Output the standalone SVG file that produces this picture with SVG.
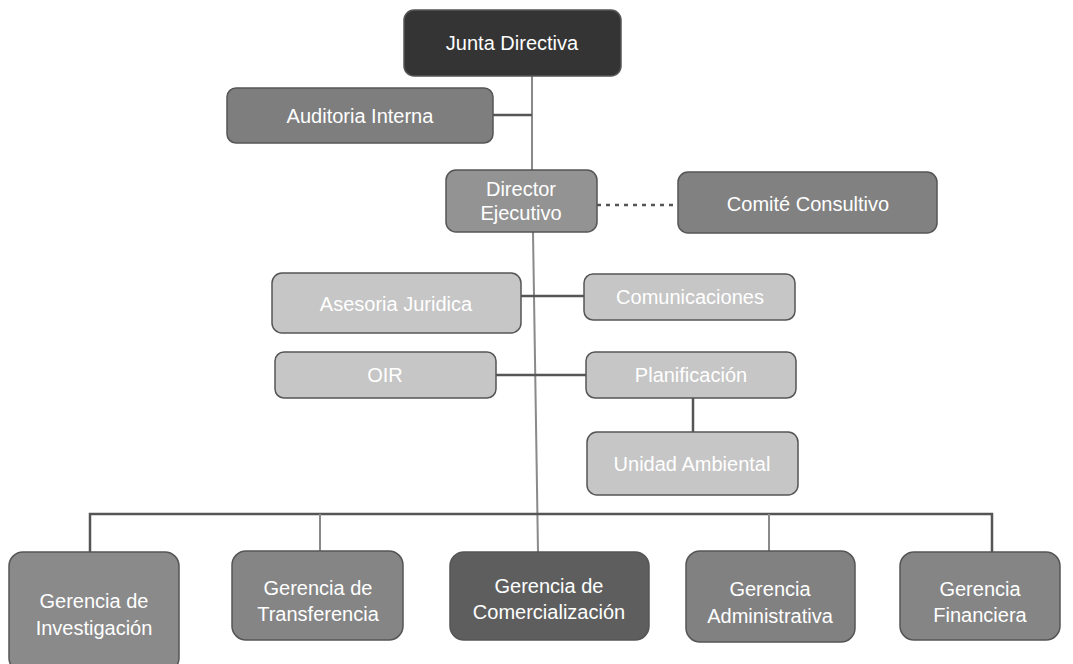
<svg xmlns="http://www.w3.org/2000/svg" width="1073" height="664" viewBox="0 0 1073 664">
<style>
.n{stroke:#555;stroke-width:1.5}
.t{font-family:"Liberation Sans",Arial,sans-serif;font-size:20px;fill:#fff;text-anchor:middle;dominant-baseline:central}
.c{stroke:#555;stroke-width:2.5;fill:none}
.v{stroke:#8a8a8a;stroke-width:2;fill:none}
</style>
<rect width="1073" height="664" fill="#fff"/>
<g id="connectors">
<polyline class="v" points="532,76 532,170"/>
<polyline class="v" points="533,232 538,552"/>
<line class="c" x1="493" y1="115" x2="532" y2="115"/>
<line class="c" x1="597" y1="205" x2="678" y2="205" stroke-dasharray="4,5" stroke-width="3"/>
<line class="c" x1="521" y1="296" x2="585" y2="296"/>
<line class="c" x1="496" y1="375" x2="586" y2="375"/>
<line class="c" x1="693" y1="398" x2="693" y2="432"/>
<polyline class="c" points="90,552 90,514 992,514 992,552"/>
<line class="v" x1="320" y1="514" x2="320" y2="552"/>
<line class="v" x1="769" y1="514" x2="769" y2="552"/>
</g>
<g id="junta"><rect class="n" x="404" y="10" width="217" height="66" rx="10" fill="#343434"/><text class="t" x="512" y="43">Junta Directiva</text></g>
<g id="auditoria"><rect class="n" x="227" y="88" width="266" height="55" rx="9" fill="#7e7e7e"/><text class="t" x="360" y="116">Auditoria Interna</text></g>
<g id="director"><rect class="n" x="446" y="170" width="151" height="62" rx="10" fill="#939393"/><text class="t" x="521" y="189">Director</text><text class="t" x="521" y="213">Ejecutivo</text></g>
<g id="comite"><rect class="n" x="678" y="172" width="259" height="61" rx="10" fill="#818181"/><text class="t" x="808" y="204">Comité Consultivo</text></g>
<g id="asesoria"><rect class="n" x="272" y="273" width="249" height="60" rx="10" fill="#c6c6c6" stroke="#999"/><text class="t" x="396" y="304">Asesoria Juridica</text></g>
<g id="comunicaciones"><rect class="n" x="584" y="274" width="211" height="46" rx="9" fill="#c6c6c6" stroke="#999"/><text class="t" x="690" y="297">Comunicaciones</text></g>
<g id="oir"><rect class="n" x="275" y="352" width="221" height="46" rx="9" fill="#c6c6c6" stroke="#999"/><text class="t" x="385" y="375">OIR</text></g>
<g id="planificacion"><rect class="n" x="586" y="352" width="210" height="46" rx="9" fill="#c6c6c6" stroke="#999"/><text class="t" x="691" y="375">Planificación</text></g>
<g id="unidad"><rect class="n" x="587" y="432" width="211" height="63" rx="10" fill="#c6c6c6" stroke="#999"/><text class="t" x="692" y="464">Unidad Ambiental</text></g>
<g id="investigacion"><rect class="n" x="9" y="552" width="170" height="120" rx="14" fill="#8a8a8a"/><text class="t" x="94" y="601">Gerencia de</text><text class="t" x="94" y="628">Investigación</text></g>
<g id="transferencia"><rect class="n" x="232" y="551" width="171" height="89" rx="14" fill="#858585"/><text class="t" x="318" y="588">Gerencia de</text><text class="t" x="318" y="614">Transferencia</text></g>
<g id="comercializacion"><rect class="n" x="450" y="552" width="199" height="88" rx="14" fill="#5e5e5e"/><text class="t" x="549" y="586">Gerencia de</text><text class="t" x="549" y="612">Comercialización</text></g>
<g id="administrativa"><rect class="n" x="686" y="551" width="169" height="91" rx="14" fill="#818181"/><text class="t" x="770" y="589">Gerencia</text><text class="t" x="770" y="616">Administrativa</text></g>
<g id="financiera"><rect class="n" x="900" y="552" width="160" height="88" rx="14" fill="#858585"/><text class="t" x="980" y="589">Gerencia</text><text class="t" x="980" y="615">Financiera</text></g>
</svg>
